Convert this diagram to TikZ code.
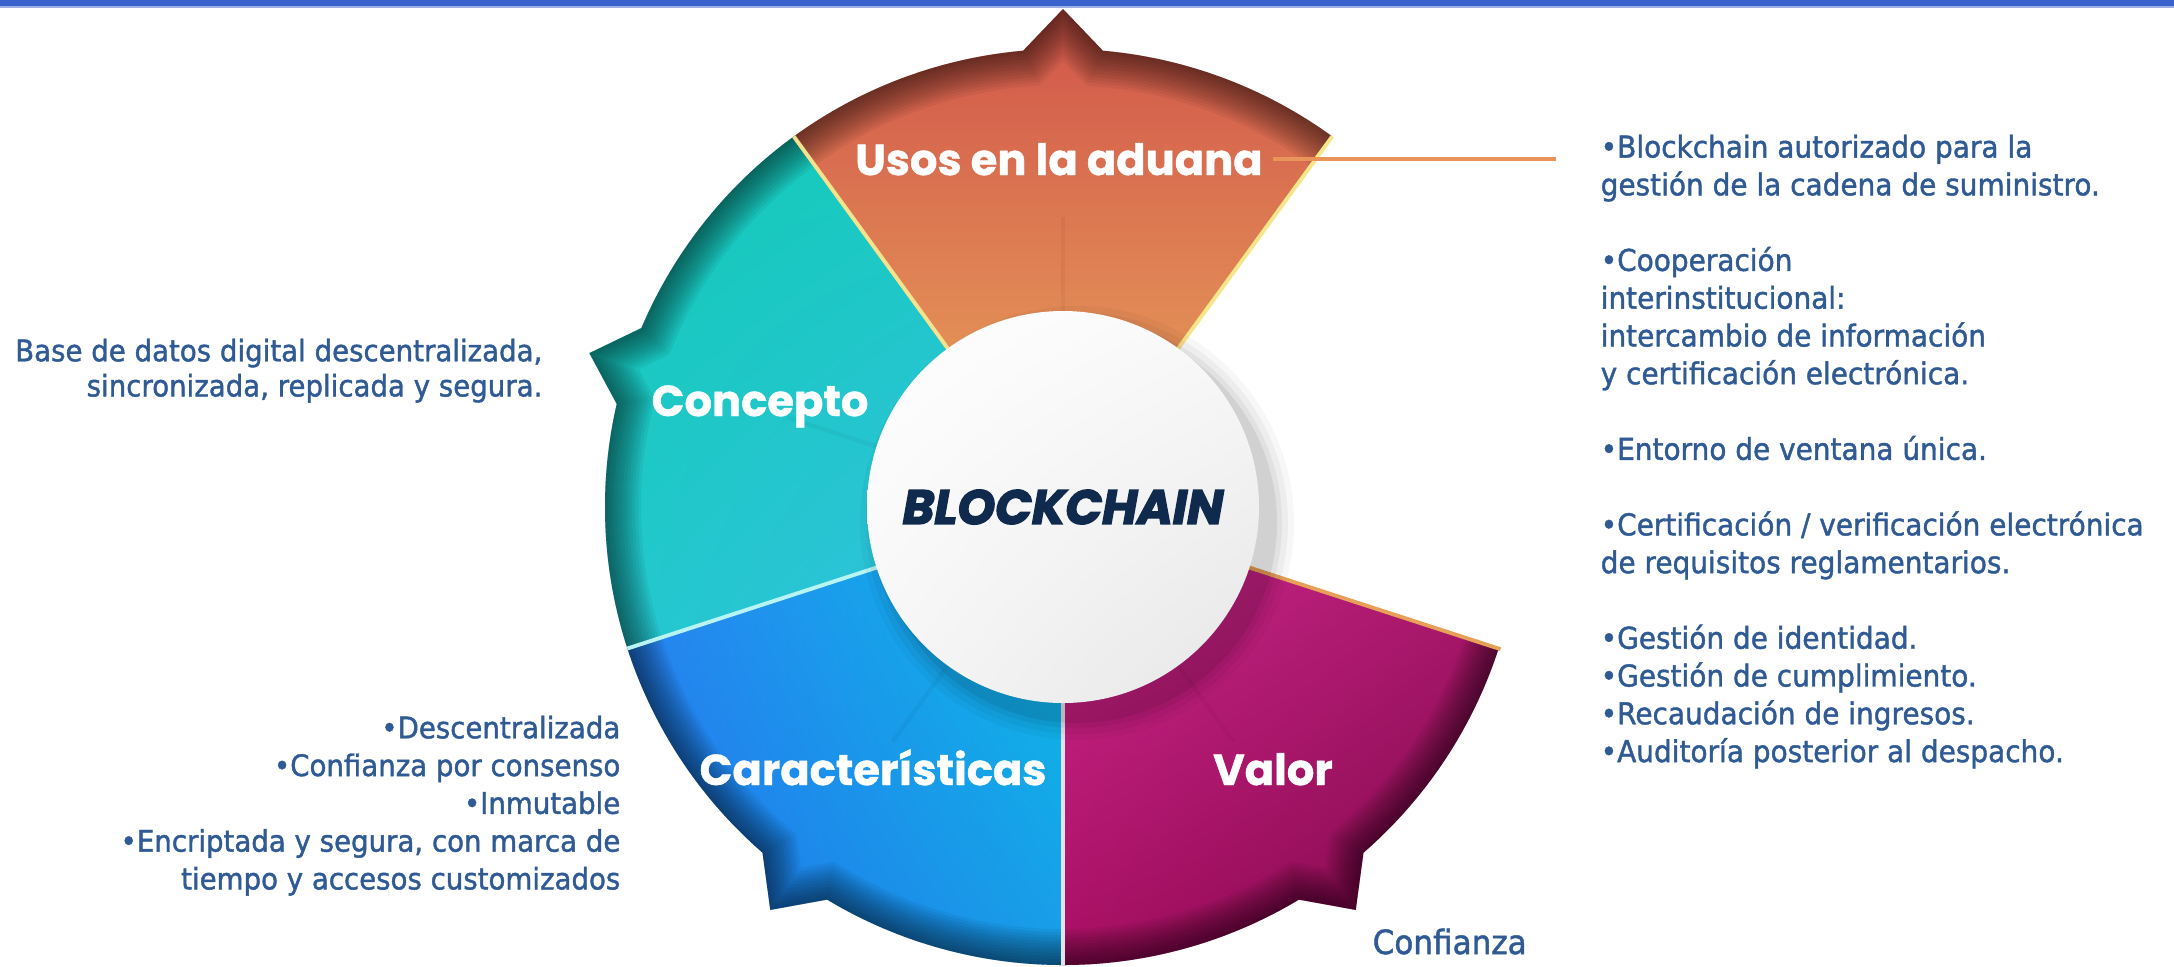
\documentclass[tikz,border=0pt]{standalone}
\usepackage{fontspec}
\setmainfont{DejaVu Sans}[FakeStretch=0.93, FakeBold=1.4]
\newfontfamily\labelfont{Poppins}[BoldFeatures = {FakeBold = 1}, BoldItalicFeatures = {FakeBold = 3}]
\usetikzlibrary{shadings}

\definecolor{textblue}{HTML}{2F5A94}
\definecolor{navy}{HTML}{0F2A4C}
\definecolor{bandblue}{HTML}{3A62CC}
\definecolor{leaderorange}{HTML}{E8945A}

\newcommand{\petal}[2]{(0,0) -- (#1:4.58)
  arc[start angle = #1, end angle = {(#1+#2)/2-5}, radius = 4.58]
  -- ({(#1+#2)/2}:4.98) -- ({(#1+#2)/2+5}:4.58)
  arc[start angle = {(#1+#2)/2+5}, end angle = #2, radius = 4.58] -- cycle}
\newcommand{\petalrim}[2]{(#1:4.58)
  arc[start angle = #1, end angle = {(#1+#2)/2-5}, radius = 4.58]
  -- ({(#1+#2)/2}:4.98) -- ({(#1+#2)/2+5}:4.58)
  arc[start angle = {(#1+#2)/2+5}, end angle = #2, radius = 4.58]}

\begin{document}
\begin{tikzpicture}[
  petal label/.style = {
    font = \labelfont\bfseries\fontsize{12.3}{14}\selectfont,
    text = white,
    inner sep = 0pt,
    anchor = base
  },
  body/.style = {
    font = \fontsize{8.55}{10.75}\selectfont,
    text = textblue,
    inner sep = 0pt
  },
  hub/.style = {
    circle,
    minimum size = 3.92cm,
    inner sep = 0pt,
    shade,
    upper left = white,
    upper right = white!95!gray,
    lower left = white!93!gray,
    lower right = white!80!gray,
    text = navy,
    font = \labelfont\bfseries\itshape\fontsize{13.7}{15}\selectfont
  },
  seam/.style = {
    line width = 1.1pt
  },
  rim/.style = {
    draw = black,
    opacity = 0.05
  },
  crease/.style = {
    draw = black,
    opacity = 0.04,
    line width = 1.2pt
  },
  leader/.style = {
    draw = leaderorange,
    line width = 1pt
  }
]
  \useasboundingbox (-10.63, -4.59) rectangle (11.11, 5.07);
  \fill[bandblue] (-10.63, 5.01) rectangle (11.11, 5.07);
  \fill[bandblue!50] (-10.63, 4.99) rectangle (11.11, 5.01);

  \begin{scope}
    \clip \petal{54}{126};
    \shade[top color = {rgb,255:red,208;green,84;blue,74}, bottom color = {rgb,255:red,236;green,170;blue,92}] \petal{54}{126};
    \foreach \w in {0.06, 0.12, ..., 0.72}
      \draw[rim, line width = \w cm] \petalrim{54}{126};
  \end{scope}
  \begin{scope}
    \clip \petal{126}{198};
    \shade[upper left = {rgb,255:red,18;green,201;blue,182}, upper right = {rgb,255:red,28;green,202;blue,196},
      lower left = {rgb,255:red,34;green,201;blue,204}, lower right = {rgb,255:red,54;green,189;blue,230}] \petal{126}{198};
    \foreach \w in {0.06, 0.12, ..., 0.72}
      \draw[rim, line width = \w cm] \petalrim{126}{198};
  \end{scope}
  \begin{scope}
    \clip \petal{198}{270};
    \shade[upper left = {rgb,255:red,42;green,136;blue,242}, upper right = {rgb,255:red,7;green,192;blue,230},
      lower left = {rgb,255:red,32;green,112;blue,234}, lower right = {rgb,255:red,26;green,156;blue,232}] \petal{198}{270};
    \foreach \w in {0.06, 0.12, ..., 0.72}
      \draw[rim, line width = \w cm] \petalrim{198}{270};
  \end{scope}
  \begin{scope}
    \clip \petal{270}{342};
    \shade[upper left = {rgb,255:red,208;green,42;blue,144}, upper right = {rgb,255:red,176;green,26;blue,112},
      lower left = {rgb,255:red,168;green,15;blue,98}, lower right = {rgb,255:red,122;green,8;blue,72}] \petal{270}{342};
    \foreach \w in {0.06, 0.12, ..., 0.72}
      \draw[rim, line width = \w cm] \petalrim{270}{342};
  \end{scope}

  \foreach \a in {90, 162, 234, 306}
    \draw[crease] (\a:1.95) -- (\a:2.9);

  \draw[seam, draw = {rgb,255:red,246;green,226;blue,140}] (0,0) -- (126:4.58);
  \draw[seam, draw = {rgb,255:red,248;green,230;blue,138}] (0,0) -- (54:4.58);
  \draw[seam, draw = {rgb,255:red,184;green,244;blue,244}] (0,0) -- (198:4.58);
  \draw[seam, draw = {rgb,255:red,222;green,228;blue,232}] (0,0) -- (270:4.58);
  \draw[seam, draw = {rgb,255:red,232;green,160;blue,88}] (0,0) -- (342:4.6);

  \foreach \r/\o in {2.17/0.03, 2.11/0.04, 2.05/0.05, 2.0/0.07}
    \fill[black, opacity = \o] (0.14, -0.16) circle (\r);
  \node[hub] (hub) at (0, 0) {BLOCKCHAIN};

  \node[petal label] (usos) at (-0.04, 3.32) {Usos en la aduana};
  \node[petal label] (concepto) at (-3.03, 0.91) {Concepto};
  \node[petal label] (caracteristicas) at (-1.90, -2.78) {Características};
  \node[petal label] (valor) at (2.10, -2.78) {Valor};

  \coordinate (leader end) at (4.93, 0);
  \draw[leader] ([xshift = 1mm]usos.east) -- (usos.east -| leader end);

  \node[body, anchor = north west, align = left] (usos list) at (5.37, 3.73) {%
    •Blockchain autorizado para la\\
    gestión de la cadena de suministro.\\[10.75pt]
    •Cooperación\\
    interinstitucional:\\
    intercambio de información\\
    y certificación electrónica.\\[10.75pt]
    •Entorno de ventana única.\\[10.75pt]
    •Certificación / verificación electrónica\\
    de requisitos reglamentarios.\\[10.75pt]
    •Gestión de identidad.\\
    •Gestión de cumplimiento.\\
    •Recaudación de ingresos.\\
    •Auditoría posterior al despacho.};
  \node[body, anchor = north east, align = right, font = \fontsize{8.45}{10}\selectfont] (concepto text) at (-5.20, 1.69) {%
    Base de datos digital descentralizada,\\
    sincronizada, replicada y segura.};
  \node[body, anchor = north east, align = right, font = \fontsize{8.45}{10.75}\selectfont] (caracteristicas list) at (-4.42, -2.08) {%
    •Descentralizada\\
    •Confianza por consenso\\
    •Inmutable\\
    •Encriptada y segura, con marca de\\
    tiempo y accesos customizados};
  \node[body, anchor = base west, font = \fontsize{9.5}{12}\selectfont] (valor text) at (3.09, -4.47) {Confianza};
\end{tikzpicture}
\end{document}
